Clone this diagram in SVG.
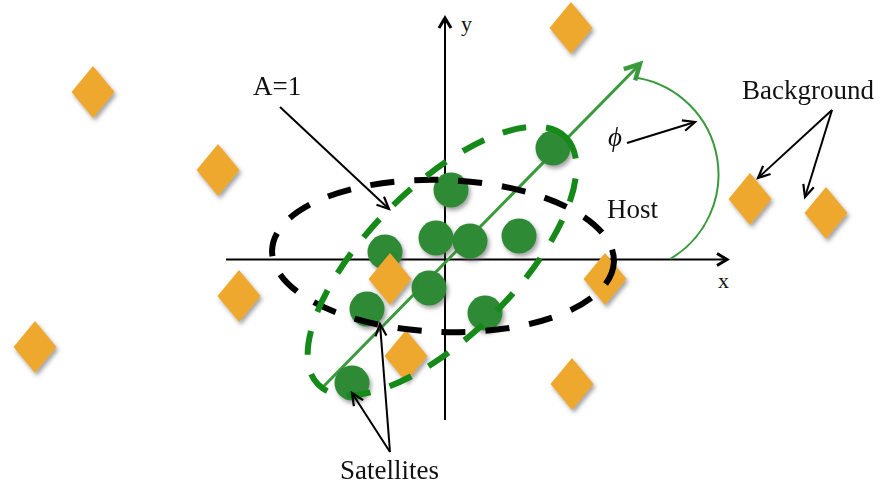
<svg xmlns="http://www.w3.org/2000/svg" xmlns:xlink="http://www.w3.org/1999/xlink" width="880" height="487" viewBox="0 0 880 487">
  <style>
    .lbl { font-family: "Liberation Serif", "Times New Roman", serif; font-size: 27px; fill: #111; }
    .ax-lbl { font-family: "Liberation Serif", "Times New Roman", serif; font-size: 22px; fill: #111; }
    .axis { stroke: #000; stroke-width: 2; fill: none; }
    .pointer { stroke: #000; stroke-width: 2; fill: none; }
    .sat { fill: #2f8a36; }
    .bkg { fill: #efa82f; }
    .host { fill: none; stroke: #000; stroke-width: 6; stroke-dasharray: 24 20; }
    .satzone { fill: none; stroke: #158a18; stroke-width: 6; stroke-dasharray: 24 20; }
    .major { stroke: #3a9a3c; stroke-width: 3; fill: none; }
    .angle { stroke: #3a9a3c; stroke-width: 2; fill: none; }
  </style>
  <defs>
    <filter id="shadow" x="-40%" y="-40%" width="180%" height="180%">
      <feDropShadow dx="2" dy="3" stdDeviation="2" flood-color="#555" flood-opacity="0.55"/>
    </filter>
    <path id="dia" d="M0,-26 L21.5,0 L0,26 L-21.5,0 Z"/>
    <marker id="open" markerUnits="userSpaceOnUse" markerWidth="30" markerHeight="30" refX="0" refY="0" orient="auto" overflow="visible">
      <path d="M-12,-5.5 L0,0 L-12,5.5" fill="none" stroke="#000" stroke-width="2.2" stroke-linejoin="miter"/>
    </marker>
    <marker id="axhead" markerUnits="userSpaceOnUse" markerWidth="30" markerHeight="30" refX="0" refY="0" orient="auto" overflow="visible">
      <path d="M-10,-6 L0,0 L-10,6" fill="none" stroke="#000" stroke-width="3"/>
    </marker>
    <marker id="greenhead" markerUnits="userSpaceOnUse" markerWidth="30" markerHeight="30" refX="0" refY="0" orient="auto" overflow="visible">
      <path d="M-15,-8 L0,0 L-15,8" fill="none" stroke="#3a9a3c" stroke-width="4.5"/>
    </marker>
  </defs>

  <rect width="880" height="487" fill="#fff"/>

  <!-- coordinate axes -->
  <g id="axes">
    <line class="axis" x1="226" y1="259.5" x2="727" y2="259.5" marker-end="url(#axhead)"/>
    <line class="axis" x1="445" y1="420" x2="445" y2="18" marker-end="url(#axhead)"/>
    <text class="ax-lbl" x="718" y="288">x</text>
    <text class="ax-lbl" x="461" y="31">y</text>
  </g>

  <!-- major axis of the satellite distribution and position angle -->
  <g id="major-axis">
    <line class="major" x1="322" y1="388" x2="640" y2="64" marker-end="url(#greenhead)"/>
    <path class="angle" d="M638,78 A98,98 0 0 1 670,259"/>
  </g>

  <!-- satellites -->
  <g id="satellites" filter="url(#shadow)">
    <circle id="sat-1" class="sat" cx="553" cy="148" r="17.5"/>
    <circle id="sat-2" class="sat" cx="451" cy="190" r="17.5"/>
    <circle id="sat-3" class="sat" cx="436" cy="238" r="17.5"/>
    <circle id="sat-4" class="sat" cx="470" cy="241" r="17.5"/>
    <circle id="sat-5" class="sat" cx="519" cy="236" r="17.5"/>
    <circle id="sat-6" class="sat" cx="385" cy="252" r="17.5"/>
    <circle id="sat-7" class="sat" cx="429" cy="288" r="17.5"/>
    <circle id="sat-8" class="sat" cx="367" cy="309" r="17.5"/>
    <circle id="sat-9" class="sat" cx="485" cy="313" r="17.5"/>
    <circle id="sat-10" class="sat" cx="352" cy="383" r="17.5"/>
  </g>

  <!-- background galaxies -->
  <g id="background" filter="url(#shadow)">
    <use id="bkg-1" class="bkg" xlink:href="#dia" x="93" y="92"/>
    <use id="bkg-2" class="bkg" xlink:href="#dia" x="218" y="170"/>
    <use id="bkg-3" class="bkg" xlink:href="#dia" x="239" y="296"/>
    <use id="bkg-4" class="bkg" xlink:href="#dia" x="35" y="347"/>
    <use id="bkg-5" class="bkg" xlink:href="#dia" x="571" y="28"/>
    <use id="bkg-6" class="bkg" xlink:href="#dia" x="750" y="199"/>
    <use id="bkg-7" class="bkg" xlink:href="#dia" x="826" y="213"/>
    <use id="bkg-8" class="bkg" xlink:href="#dia" x="390" y="279"/>
    <use id="bkg-9" class="bkg" xlink:href="#dia" x="605" y="279"/>
    <use id="bkg-10" class="bkg" xlink:href="#dia" x="406" y="356"/>
    <use id="bkg-11" class="bkg" xlink:href="#dia" x="572" y="384"/>
  </g>

  <!-- host halo and satellite region -->
  <g id="host-ellipse">
    <ellipse class="host" cx="443" cy="256" rx="171" ry="76" transform="rotate(2 443 256)"/>
  </g>
  <g id="satellite-ellipse">
    <ellipse class="satzone" cx="442" cy="261" rx="175" ry="74" transform="rotate(-45 442 261)"/>
  </g>

  <!-- labels -->
  <g id="label-a"><text class="lbl" x="253" y="95">A=1</text></g>
  <g id="label-host"><text class="lbl" x="607" y="218">Host</text></g>
  <g id="label-background"><text class="lbl" x="742" y="99">Background</text></g>
  <g id="label-satellites"><text class="lbl" x="340" y="479">Satellites</text></g>
  <g id="label-phi"><text class="lbl" x="608" y="146" font-size="28" font-style="italic">ϕ</text></g>

  <!-- pointer arrows -->
  <g id="connectors">
    <line class="pointer" x1="280" y1="107" x2="389" y2="209" marker-end="url(#open)"/>
    <line class="pointer" x1="627" y1="143" x2="695" y2="122" marker-end="url(#open)"/>
    <line class="pointer" x1="832" y1="110" x2="758" y2="178" marker-end="url(#open)"/>
    <line class="pointer" x1="832" y1="110" x2="805" y2="197" marker-end="url(#open)"/>
    <line class="pointer" x1="390" y1="452" x2="352" y2="393" marker-end="url(#open)"/>
    <line class="pointer" x1="390" y1="452" x2="380" y2="324" marker-end="url(#open)"/>
  </g>
</svg>
